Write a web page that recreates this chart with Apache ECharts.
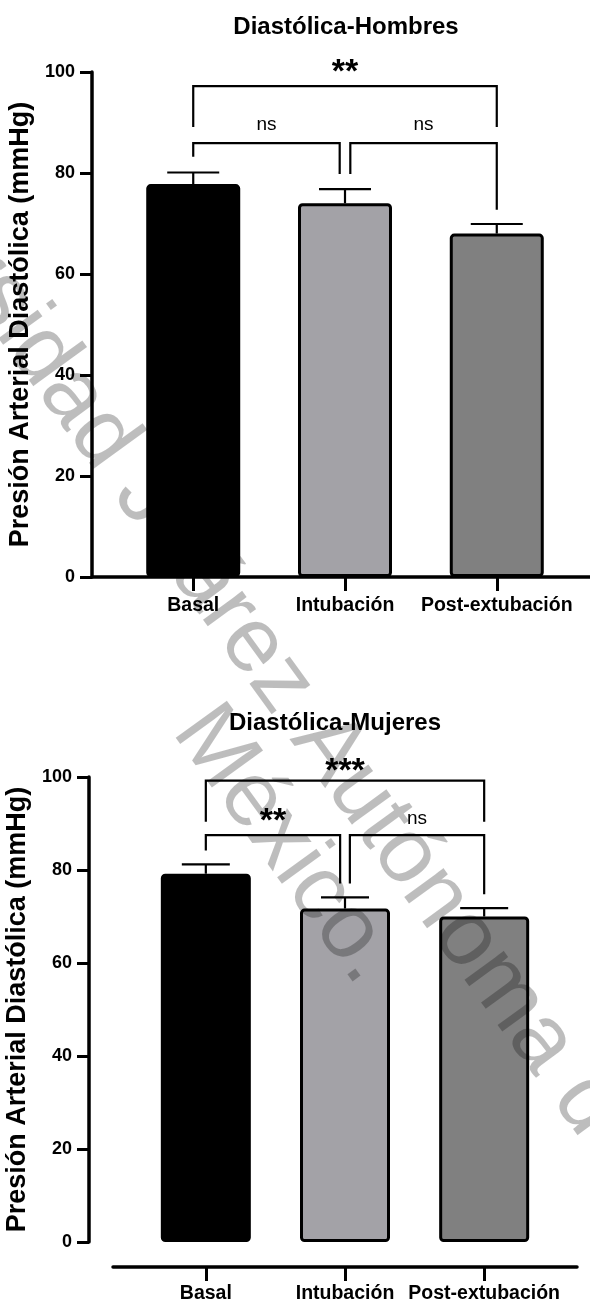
<!DOCTYPE html>
<html><head><meta charset="utf-8">
<script src="https://cdn.jsdelivr.net/npm/echarts@6/dist/echarts.min.js"></script>
<style>html,body{margin:0;padding:0;background:#fff}#c{width:590px;height:1302px}</style>
</head><body><div id="c"></div>
<script>
// ---- data ----
const categories = ['Basal', 'Intubación', 'Post-extubación'];
const menMeans = [77.8, 74.0, 68.0];
const menSem = [2.3, 2.8, 1.9];
const womenMeans = [79.2, 71.7, 70.0];
const womenSem = [2.0, 2.4, 1.8];
const barColors = ['#000000', '#a3a2a7', '#808080'];
const yTicks = [0, 20, 40, 60, 80, 100];
// brackets: [xFrom, xTo, yLine, yLegFrom, yLegTo, yLabel]
const menBrackets = [[0, 0.965, 85.9, 83.2, 79.8, 89.5], [1.035, 2, 85.9, 79.8, 72.7, 89.5], [0, 2, 97.2, 89.1, 89.1, 99.9]];
const menLabels = ['ns', 'ns', '**'];
const womenBrackets = [[0, 0.965, 87.5, 84.2, 77.1, 90.3], [1.035, 2, 87.5, 77.1, 74.8, 91.0], [0, 2, 99.2, 90.4, 90.4, 101.1]];
const womenLabels = ['**', 'ns', '***'];

const FF = '"Liberation Sans", Arial, sans-serif';
const chart = echarts.init(document.getElementById('c'), null, {renderer: 'canvas'});

function xAx(gi, offset, margin) {
  return {
    type: 'value', gridIndex: gi, min: -0.667, max: 2.667, offset: offset,
    axisLine: {show: true, onZero: false, lineStyle: {color: '#000', width: 3.5}},
    axisTick: {show: true, customValues: [0, 1, 2], length: 14, lineStyle: {color: '#000', width: 3}},
    axisLabel: {customValues: [0, 1, 2], formatter: v => categories[Math.round(v)], color: '#000',
      fontFamily: FF, fontWeight: 'bold', fontSize: 19.5, margin: margin},
    splitLine: {show: false}
  };
}
function yAx(gi, offset, nameGap) {
  return {
    type: 'value', gridIndex: gi, min: yTicks[0], max: yTicks[yTicks.length - 1], interval: 20, offset: offset,
    axisLine: {show: true, onZero: false, lineStyle: {color: '#000', width: 3.5}},
    axisTick: {show: true, length: 12, lineStyle: {color: '#000', width: 3}},
    axisLabel: {color: '#000', fontFamily: FF, fontWeight: 'bold', fontSize: 18, margin: 17},
    splitLine: {show: false},
    name: 'Presión Arterial Diastólica (mmHg)', nameLocation: 'middle', nameGap: nameGap,
    nameTextStyle: {color: '#000', fontFamily: FF, fontWeight: 'bold', fontSize: 27}
  };
}
function barSeries(gi, means) {
  return {
    type: 'bar', xAxisIndex: gi, yAxisIndex: gi, barWidth: gi === 0 ? 94 : 90,
    data: means.map((m, i) => ({value: [i, m], itemStyle: {color: barColors[i]}})),
    itemStyle: {borderColor: '#000', borderWidth: 3, borderRadius: 3}, z: 2
  };
}
function errSeries(gi, means, sems, capHalf) {
  return {
    type: 'custom', xAxisIndex: gi, yAxisIndex: gi, z: 5,
    data: means.map((m, i) => [i, m, sems[i]]),
    renderItem: (params, api) => {
      const x = api.value(0), m = api.value(1), s = api.value(2);
      const b = api.coord([x, m]), t = api.coord([x, m + s]);
      return {type: 'group', children: [
        {type: 'line', shape: {x1: b[0], y1: b[1], x2: t[0], y2: t[1]}, style: {stroke: '#000', lineWidth: 2.2}},
        {type: 'line', shape: {x1: t[0] - capHalf, y1: t[1], x2: t[0] + capHalf, y2: t[1]}, style: {stroke: '#000', lineWidth: 2.2}}
      ]};
    }
  };
}
function bracketSeries(gi, brackets, labels) {
  return {
    type: 'custom', xAxisIndex: gi, yAxisIndex: gi, z: 6, clip: false,
    data: brackets,
    renderItem: (params, api) => {
      const x1 = api.value(0), x2 = api.value(1), yl = api.value(2), e1 = api.value(3), e2 = api.value(4), ly = api.value(5);
      const pts = [api.coord([x1, e1]), api.coord([x1, yl]), api.coord([x2, yl]), api.coord([x2, e2])];
      const lp = api.coord([(x1 + x2) / 2, ly]);
      const lab = labels[params.dataIndex];
      const star = lab !== 'ns';
      return {type: 'group', children: [
        {type: 'polyline', shape: {points: pts}, style: {stroke: '#000', lineWidth: 2.2, fill: null}},
        {type: 'text', x: lp[0], y: lp[1], style: {text: lab, fill: '#000', align: 'center', verticalAlign: 'middle',
          font: star ? 'bold 34px ' + FF : '19px ' + FF}}
      ]};
    }
  };
}

const wmFont = '92px ' + FF;
const wmAngle = -54 * Math.PI / 180;

chart.setOption({
  animation: false,
  backgroundColor: '#fff',
  title: [
    {text: 'Diastólica-Hombres', left: 346, top: 15, textAlign: 'center', padding: 0,
      textStyle: {fontFamily: FF, fontWeight: 'bold', fontSize: 24, color: '#000'}},
    {text: 'Diastólica-Mujeres', left: 335, top: 711, textAlign: 'center', padding: 0,
      textStyle: {fontFamily: FF, fontWeight: 'bold', fontSize: 24, color: '#000'}}
  ],
  grid: [
    {left: 92, top: 72, width: 506, height: 505, containLabel: false, outerBoundsMode: 'none'},
    {left: 113, top: 777, width: 464, height: 465, containLabel: false, outerBoundsMode: 'none'}
  ],
  xAxis: [xAx(0, 0, 19), xAx(1, 25, 17)],
  yAxis: [yAx(0, 0, 54), yAx(1, 24, 51)],
  series: [
    barSeries(0, menMeans), errSeries(0, menMeans, menSem, 26), bracketSeries(0, menBrackets, menLabels),
    barSeries(1, womenMeans), errSeries(1, womenMeans, womenSem, 24), bracketSeries(1, womenBrackets, womenLabels)
  ],
  graphic: [
    {type: 'text', x: -168, y: 66, rotation: wmAngle, silent: true, z: 100,
      style: {text: 'Universidad Juárez Autónoma de Tabasco.', font: wmFont, fill: 'rgba(0,0,0,0.26)', align: 'left', verticalAlign: 'middle'}},
    {type: 'text', x: 285, y: 845, rotation: wmAngle, silent: true, z: 100,
      style: {text: 'México.', font: wmFont, fill: 'rgba(0,0,0,0.26)', align: 'center', verticalAlign: 'middle'}}
  ]
});
</script></body></html>
